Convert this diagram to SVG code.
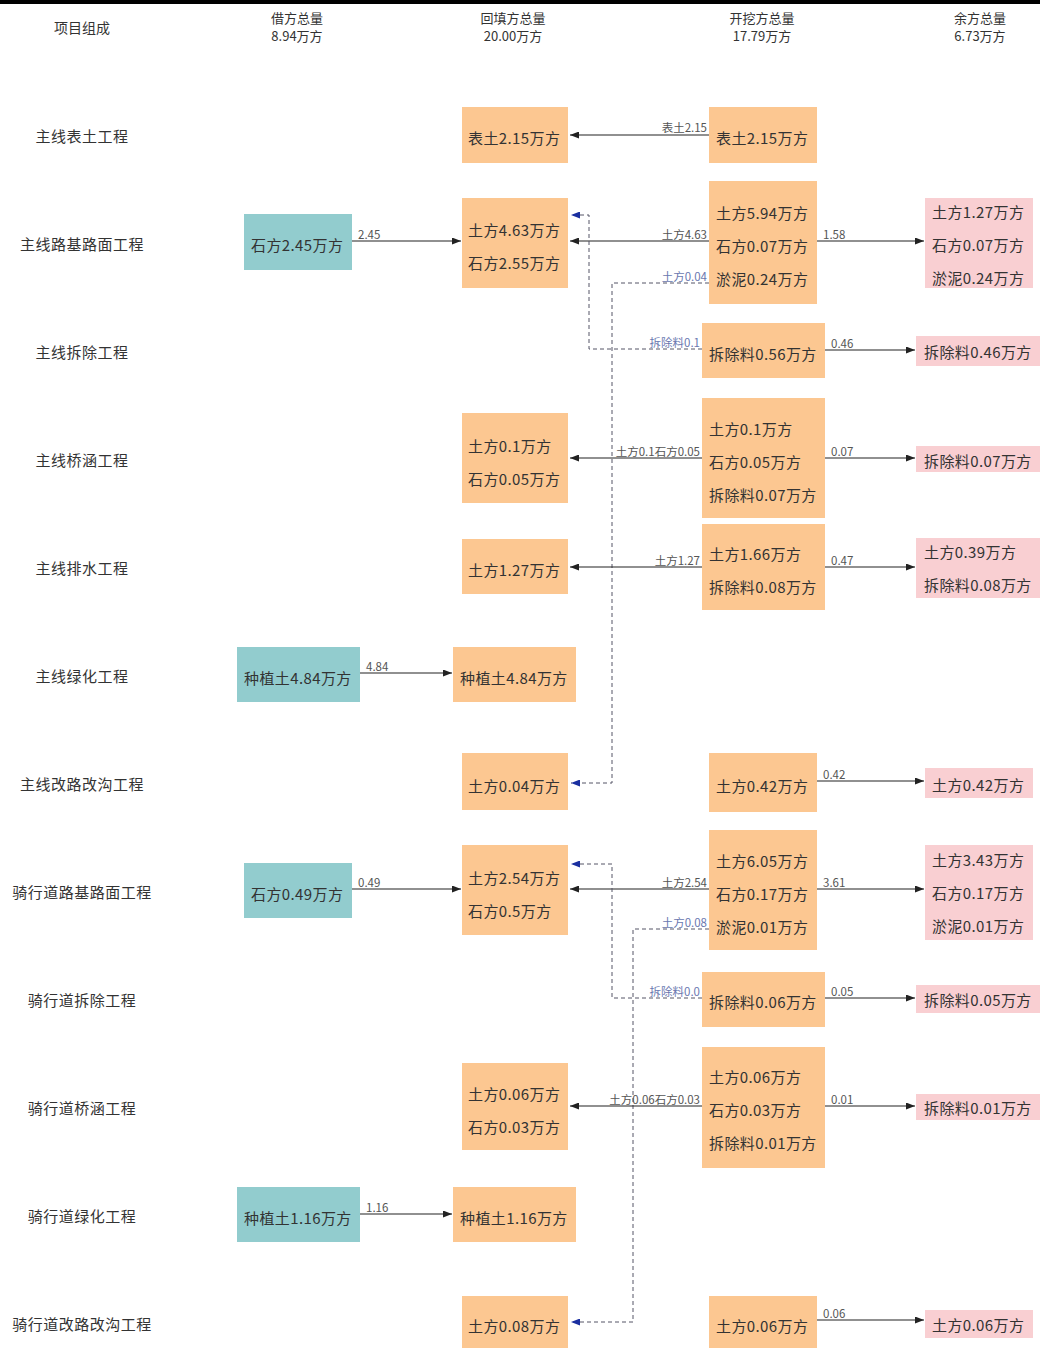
<svg xmlns="http://www.w3.org/2000/svg" width="1040" height="1348" viewBox="0 0 1040 1348">
<defs>
<marker id="ab" markerUnits="userSpaceOnUse" markerWidth="9" markerHeight="7" refX="9" refY="3.5" orient="auto"><path d="M0,0 L9,3.5 L0,7 z" fill="#222"/></marker>
<marker id="au" markerUnits="userSpaceOnUse" markerWidth="9" markerHeight="7" refX="9" refY="3.5" orient="auto"><path d="M0,0 L9,3.5 L0,7 z" fill="#1a2fa0"/></marker>
<style>
text{font-family:"Noto Sans CJK SC","Liberation Sans",sans-serif;fill:#333}
.h{font-size:13px;text-anchor:middle}
.rl{font-size:15px;text-anchor:middle;letter-spacing:0.5px}
.bt{font-size:15px;dominant-baseline:central;letter-spacing:0.4px}
.cl{font-size:11.5px;fill:#555}
.dl{font-size:11.5px;fill:#6a78b0}
.f{fill:#FCC791}
.t{fill:#92CCCE}
.p{fill:#F9CFD2}
.ln{stroke:#222;stroke-width:1.2;fill:none}
.dash{stroke:#556;stroke-width:1;stroke-dasharray:4 3;fill:none}
</style>
</defs>
<rect x="0" y="0" width="1040" height="4" fill="#000"/>
<g id="header">
<text class="h" x="82" y="33" style="font-size:14px">项目组成</text>
<text class="h" x="297" y="23">借方总量</text><text class="h" x="297" y="41">8.94万方</text>
<text class="h" x="513" y="23">回填方总量</text><text class="h" x="513" y="41">20.00万方</text>
<text class="h" x="762" y="23">开挖方总量</text><text class="h" x="762" y="41">17.79万方</text>
<text class="h" x="980" y="23">余方总量</text><text class="h" x="980" y="41">6.73万方</text>
</g>
<g id="row-labels">
<text class="rl" x="82" y="142">主线表土工程</text>
<text class="rl" x="82" y="250">主线路基路面工程</text>
<text class="rl" x="82" y="358">主线拆除工程</text>
<text class="rl" x="82" y="466">主线桥涵工程</text>
<text class="rl" x="82" y="574">主线排水工程</text>
<text class="rl" x="82" y="682">主线绿化工程</text>
<text class="rl" x="82" y="790">主线改路改沟工程</text>
<text class="rl" x="82" y="898">骑行道路基路面工程</text>
<text class="rl" x="82" y="1006">骑行道拆除工程</text>
<text class="rl" x="82" y="1114">骑行道桥涵工程</text>
<text class="rl" x="82" y="1222">骑行道绿化工程</text>
<text class="rl" x="82" y="1330">骑行道改路改沟工程</text>
</g>
<g id="connectors">
<path class="ln" d="M709 135 H570" marker-end="url(#ab)"/>
<text class="cl" x="707" y="132" text-anchor="end">表土2.15</text>
<path class="ln" d="M352 241 H461" marker-end="url(#ab)"/>
<text class="cl" x="358" y="239">2.45</text>
<path class="ln" d="M709 241 H570" marker-end="url(#ab)"/>
<text class="cl" x="707" y="239" text-anchor="end">土方4.63</text>
<path class="ln" d="M817 241 H924" marker-end="url(#ab)"/>
<text class="cl" x="823" y="239">1.58</text>
<path class="dash" d="M709 283 H612 V783 H571" marker-end="url(#au)"/>
<text class="dl" x="707" y="281" text-anchor="end">土方0.04</text>
<path class="dash" d="M702 349 H589 V215 H571" marker-end="url(#au)"/>
<text class="dl" x="700" y="347" text-anchor="end">拆除料0.1</text>
<path class="ln" d="M825 350 H915" marker-end="url(#ab)"/>
<text class="cl" x="831" y="348">0.46</text>
<path class="ln" d="M702 458 H570" marker-end="url(#ab)"/>
<text class="cl" x="700" y="456" text-anchor="end">土方0.1石方0.05</text>
<path class="ln" d="M825 458 H915" marker-end="url(#ab)"/>
<text class="cl" x="831" y="456">0.07</text>
<path class="ln" d="M702 567 H570" marker-end="url(#ab)"/>
<text class="cl" x="700" y="565" text-anchor="end">土方1.27</text>
<path class="ln" d="M825 567 H915" marker-end="url(#ab)"/>
<text class="cl" x="831" y="565">0.47</text>
<path class="ln" d="M360 673 H452" marker-end="url(#ab)"/>
<text class="cl" x="366" y="671">4.84</text>
<path class="ln" d="M817 781 H924" marker-end="url(#ab)"/>
<text class="cl" x="823" y="779">0.42</text>
<path class="ln" d="M352 889 H461" marker-end="url(#ab)"/>
<text class="cl" x="358" y="887">0.49</text>
<path class="ln" d="M709 889 H570" marker-end="url(#ab)"/>
<text class="cl" x="707" y="887" text-anchor="end">土方2.54</text>
<path class="ln" d="M817 889 H924" marker-end="url(#ab)"/>
<text class="cl" x="823" y="887">3.61</text>
<path class="dash" d="M709 929 H633 V1322 H571" marker-end="url(#au)"/>
<text class="dl" x="707" y="927" text-anchor="end">土方0.08</text>
<path class="dash" d="M702 998 H612 V864 H571" marker-end="url(#au)"/>
<text class="dl" x="700" y="996" text-anchor="end">拆除料0.0</text>
<path class="ln" d="M825 998 H915" marker-end="url(#ab)"/>
<text class="cl" x="831" y="996">0.05</text>
<path class="ln" d="M702 1106 H570" marker-end="url(#ab)"/>
<text class="cl" x="700" y="1104" text-anchor="end">土方0.06石方0.03</text>
<path class="ln" d="M825 1106 H915" marker-end="url(#ab)"/>
<text class="cl" x="831" y="1104">0.01</text>
<path class="ln" d="M360 1214 H452" marker-end="url(#ab)"/>
<text class="cl" x="366" y="1212">1.16</text>
<path class="ln" d="M817 1320 H924" marker-end="url(#ab)"/>
<text class="cl" x="823" y="1318">0.06</text>
</g>
<g id="n-r1-fill"><rect class="f" x="462" y="107" width="106" height="56"/><text class="bt" x="468" y="137">表土2.15万方</text></g>
<g id="n-r1-exc"><rect class="f" x="709" y="107" width="108" height="56"/><text class="bt" x="716" y="137">表土2.15万方</text></g>
<g id="n-r2-borrow"><rect class="t" x="244" y="214" width="108" height="56"/><text class="bt" x="251" y="244">石方2.45万方</text></g>
<g id="n-r2-fill"><rect class="f" x="462" y="198" width="106" height="90"/><text class="bt" x="468" y="229">土方4.63万方</text><text class="bt" x="468" y="262">石方2.55万方</text></g>
<g id="n-r2-exc"><rect class="f" x="709" y="181" width="108" height="123"/><text class="bt" x="716" y="212">土方5.94万方</text><text class="bt" x="716" y="245">石方0.07万方</text><text class="bt" x="716" y="278">淤泥0.24万方</text></g>
<g id="n-r2-surplus"><rect class="p" x="925" y="198" width="108" height="90"/><text class="bt" x="932" y="211">土方1.27万方</text><text class="bt" x="932" y="244">石方0.07万方</text><text class="bt" x="932" y="277">淤泥0.24万方</text></g>
<g id="n-r3-exc"><rect class="f" x="702" y="323" width="123" height="55"/><text class="bt" x="709" y="353">拆除料0.56万方</text></g>
<g id="n-r3-surplus"><rect class="p" x="916" y="336" width="124" height="30"/><text class="bt" x="924" y="351">拆除料0.46万方</text></g>
<g id="n-r4-fill"><rect class="f" x="462" y="413" width="106" height="90"/><text class="bt" x="468" y="445">土方0.1万方</text><text class="bt" x="468" y="478">石方0.05万方</text></g>
<g id="n-r4-exc"><rect class="f" x="702" y="398" width="123" height="120"/><text class="bt" x="709" y="428">土方0.1万方</text><text class="bt" x="709" y="461">石方0.05万方</text><text class="bt" x="709" y="494">拆除料0.07万方</text></g>
<g id="n-r4-surplus"><rect class="p" x="916" y="446" width="124" height="26"/><text class="bt" x="924" y="460">拆除料0.07万方</text></g>
<g id="n-r5-fill"><rect class="f" x="462" y="539" width="106" height="55"/><text class="bt" x="468" y="569">土方1.27万方</text></g>
<g id="n-r5-exc"><rect class="f" x="702" y="524" width="123" height="86"/><text class="bt" x="709" y="553">土方1.66万方</text><text class="bt" x="709" y="586">拆除料0.08万方</text></g>
<g id="n-r5-surplus"><rect class="p" x="916" y="538" width="124" height="60"/><text class="bt" x="924" y="551">土方0.39万方</text><text class="bt" x="924" y="584">拆除料0.08万方</text></g>
<g id="n-r6-borrow"><rect class="t" x="237" y="647" width="123" height="55"/><text class="bt" x="244" y="677">种植土4.84万方</text></g>
<g id="n-r6-fill"><rect class="f" x="453" y="647" width="123" height="55"/><text class="bt" x="460" y="677">种植土4.84万方</text></g>
<g id="n-r7-fill"><rect class="f" x="462" y="753" width="106" height="57"/><text class="bt" x="468" y="785">土方0.04万方</text></g>
<g id="n-r7-exc"><rect class="f" x="709" y="753" width="108" height="59"/><text class="bt" x="716" y="785">土方0.42万方</text></g>
<g id="n-r7-surplus"><rect class="p" x="925" y="768" width="108" height="30"/><text class="bt" x="932" y="784">土方0.42万方</text></g>
<g id="n-r8-borrow"><rect class="t" x="244" y="863" width="108" height="55"/><text class="bt" x="251" y="893">石方0.49万方</text></g>
<g id="n-r8-fill"><rect class="f" x="462" y="845" width="106" height="90"/><text class="bt" x="468" y="877">土方2.54万方</text><text class="bt" x="468" y="910">石方0.5万方</text></g>
<g id="n-r8-exc"><rect class="f" x="709" y="830" width="108" height="120"/><text class="bt" x="716" y="860">土方6.05万方</text><text class="bt" x="716" y="893">石方0.17万方</text><text class="bt" x="716" y="926">淤泥0.01万方</text></g>
<g id="n-r8-surplus"><rect class="p" x="925" y="845" width="108" height="95"/><text class="bt" x="932" y="859">土方3.43万方</text><text class="bt" x="932" y="892">石方0.17万方</text><text class="bt" x="932" y="925">淤泥0.01万方</text></g>
<g id="n-r9-exc"><rect class="f" x="702" y="972" width="123" height="55"/><text class="bt" x="709" y="1001">拆除料0.06万方</text></g>
<g id="n-r9-surplus"><rect class="p" x="916" y="985" width="124" height="28"/><text class="bt" x="924" y="999">拆除料0.05万方</text></g>
<g id="n-r10-fill"><rect class="f" x="462" y="1063" width="106" height="87"/><text class="bt" x="468" y="1093">土方0.06万方</text><text class="bt" x="468" y="1126">石方0.03万方</text></g>
<g id="n-r10-exc"><rect class="f" x="702" y="1047" width="123" height="121"/><text class="bt" x="709" y="1076">土方0.06万方</text><text class="bt" x="709" y="1109">石方0.03万方</text><text class="bt" x="709" y="1142">拆除料0.01万方</text></g>
<g id="n-r10-surplus"><rect class="p" x="916" y="1094" width="124" height="26"/><text class="bt" x="924" y="1107">拆除料0.01万方</text></g>
<g id="n-r11-borrow"><rect class="t" x="237" y="1187" width="123" height="55"/><text class="bt" x="244" y="1217">种植土1.16万方</text></g>
<g id="n-r11-fill"><rect class="f" x="453" y="1187" width="123" height="55"/><text class="bt" x="460" y="1217">种植土1.16万方</text></g>
<g id="n-r12-fill"><rect class="f" x="462" y="1296" width="106" height="52"/><text class="bt" x="468" y="1325">土方0.08万方</text></g>
<g id="n-r12-exc"><rect class="f" x="709" y="1296" width="108" height="52"/><text class="bt" x="716" y="1325">土方0.06万方</text></g>
<g id="n-r12-surplus"><rect class="p" x="925" y="1310" width="108" height="28"/><text class="bt" x="932" y="1324">土方0.06万方</text></g>
</svg>
